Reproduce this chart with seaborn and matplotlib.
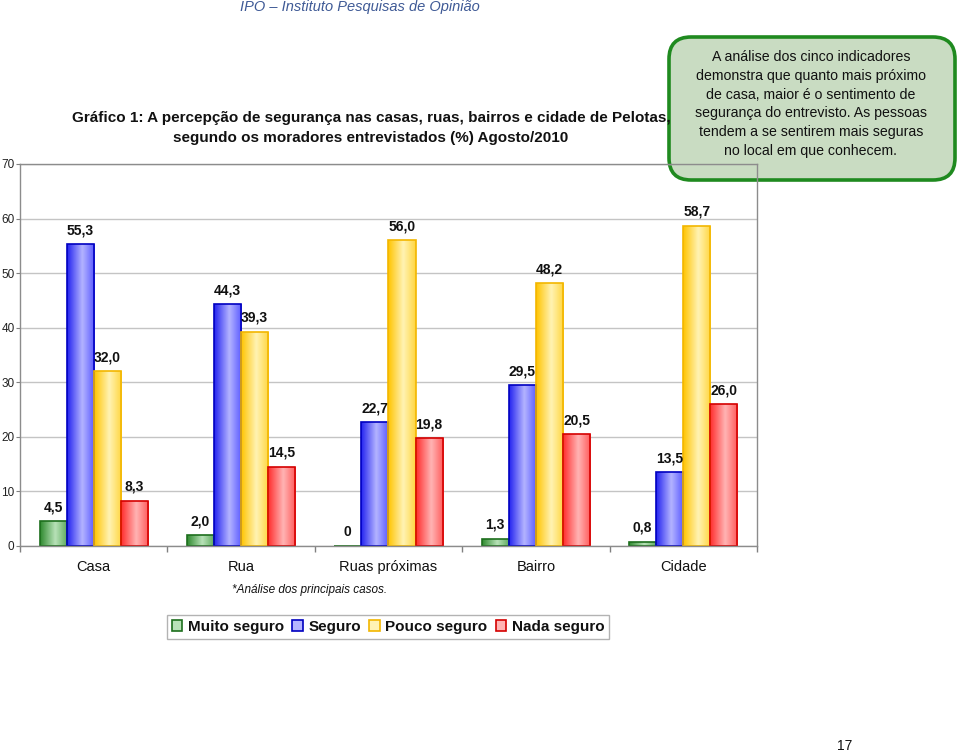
import matplotlib
matplotlib.use("Agg")
import numpy as np
import pandas as pd
import matplotlib.pyplot as plt
import seaborn as sns
from matplotlib.colors import LinearSegmentedColormap
from matplotlib.patches import Patch, FancyBboxPatch

# ── DATA ─────────────────────────────────────────────
locais = ["Casa", "Rua", "Ruas próximas", "Bairro", "Cidade"]
niveis = ["Muito seguro", "Seguro", "Pouco seguro", "Nada seguro"]
muito_seguro = [4.5, 2.0, 0.0, 1.3, 0.8]
seguro = [55.3, 44.3, 22.7, 29.5, 13.5]
pouco_seguro = [32.0, 39.3, 56.0, 48.2, 58.7]
nada_seguro = [8.3, 14.5, 19.8, 20.5, 26.0]
y_ticks = [0, 10, 20, 30, 40, 50, 60, 70]

df = pd.DataFrame({
    "local": locais * 4,
    "nivel": np.repeat(niveis, len(locais)),
    "valor": muito_seguro + seguro + pouco_seguro + nada_seguro,
})

# ── STYLE ────────────────────────────────────────────
# (dark, light, right side) for the cylinder-like shading, plus edge colour
shades = {
    "Muito seguro": ("#2f8a2f", "#b8e2b8", "#5aa85a", "#1d6e1d"),
    "Seguro": ("#2424f0", "#b4b4ff", "#5a5aff", "#0000c0"),
    "Pouco seguro": ("#ffc400", "#fff3b4", "#ffd640", "#f2b600"),
    "Nada seguro": ("#ff2e2e", "#ffb4b4", "#ff5a5a", "#d40000"),
}

sns.set_theme(style="white")
plt.rcParams["font.family"] = ["Liberation Sans", "DejaVu Sans"]

fig = plt.figure(figsize=(9.59, 7.54), dpi=100)
ax = fig.add_axes([20 / 959, 1 - 546 / 754, 737 / 959, 382 / 754])
ax.set_facecolor("none")

sns.barplot(data=df, x="local", y="valor", hue="nivel", order=locais,
            hue_order=niveis, palette=[shades[n][0] for n in niveis],
            width=0.735, gap=0, legend=False, ax=ax, zorder=1)

# gradient fill inside each bar
for nivel, cont in zip(niveis, ax.containers):
    dark, light, side, edge = shades[nivel]
    cmap = LinearSegmentedColormap.from_list(nivel, [(0, dark), (0.55, light), (1, side)])
    grad = np.linspace(0, 1, 64).reshape(1, -1)
    for bar in cont:
        x0, y0 = bar.get_x(), bar.get_y()
        w, h = bar.get_width(), bar.get_height()
        bar.set_facecolor("none")
        bar.set_edgecolor(edge)
        bar.set_linewidth(1.2)
        if h <= 0:
            continue
        im = ax.imshow(grad, cmap=cmap, aspect="auto", extent=(x0, x0 + w, y0, y0 + h),
                       zorder=0.8, interpolation="bicubic")
        im.set_clip_path(bar)

    labels = [("0" if v == 0 else f"{v:.1f}".replace(".", ",")) for v in cont.datavalues]
    ax.bar_label(cont, labels=labels, padding=5, fontsize=10, fontweight="bold", color="#111111")

ax.set_xlim(-0.5, 4.5)
ax.set_ylim(0, 70)
ax.set_yticks(y_ticks)
ax.set_yticklabels([str(t) for t in y_ticks], fontsize=8.5, color="#222222")
ax.yaxis.grid(True, color="#c4c4c4", linewidth=1)
ax.set_axisbelow(True)
ax.tick_params(axis="y", length=3, width=0.8, color="#808080", pad=1, direction="out", left=True)
ax.tick_params(axis="x", length=0, labelsize=10.5, pad=10, colors="#111111")
ax.set_xticks(np.arange(-0.5, 5, 1), minor=True)
ax.tick_params(axis="x", which="minor", length=4, color="#808080", bottom=True)
ax.set_xlabel("")
ax.set_ylabel("")
for s in ax.spines.values():
    s.set_color("#8c8c8c")
    s.set_linewidth(1)

# ── TEXTS ────────────────────────────────────────────
fig.text(360 / 959, 1 - 7 / 754, "IPO – Instituto Pesquisas de Opinião", ha="center", va="center",
         fontsize=10.5, style="italic", color="#3f5a96")
fig.text(371 / 959, 1 - 128 / 754,
         "Gráfico 1: A percepção de segurança nas casas, ruas, bairros e cidade de Pelotas,\n"
         "segundo os moradores entrevistados (%) Agosto/2010",
         ha="center", va="center", fontsize=11, fontweight="bold", linespacing=1.5,
         color="#111111")
fig.text(310 / 959, 1 - 590 / 754, "*Análise dos principais casos.", ha="center", va="center",
         fontsize=8.5, style="italic", color="#111111")
fig.text(845 / 959, 1 - 746 / 754, "17", ha="center", va="center", fontsize=10, color="#111111")

# green comment box
box = FancyBboxPatch((6.69, 5.74), 2.86, 1.43, boxstyle="round,pad=0,rounding_size=0.22",
                     transform=fig.dpi_scale_trans, facecolor="#c9dcc2", edgecolor="#1f8a1f",
                     linewidth=2.6, zorder=-1)
fig.patches.append(box)
fig.text(811 / 959, 1 - 104 / 754,
         "A análise dos cinco indicadores\ndemonstra que quanto mais próximo\n"
         "de casa, maior é o sentimento de\nsegurança do entrevisto. As pessoas\n"
         "tendem a se sentirem mais seguras\nno local em que conhecem.",
         ha="center", va="center", fontsize=10.2, linespacing=1.42, color="#111111")

# legend
handles = [Patch(facecolor=shades[n][1], edgecolor=shades[n][3], linewidth=1.2, label=n)
           for n in niveis]
leg = fig.legend(handles=handles, loc="center", bbox_to_anchor=(388 / 959, 1 - 627 / 754),
                 ncol=4, frameon=True, fancybox=False, fontsize=11, handlelength=0.7,
                 handleheight=0.7, handletextpad=0.35, columnspacing=0.55, borderpad=0.3,
                 borderaxespad=0)
leg.get_frame().set_edgecolor("#a0a0a0")
leg.get_frame().set_linewidth(1)
for t in leg.get_texts():
    t.set_fontweight("bold")
    t.set_color("#111111")

fig.savefig("out.png", dpi=100)
